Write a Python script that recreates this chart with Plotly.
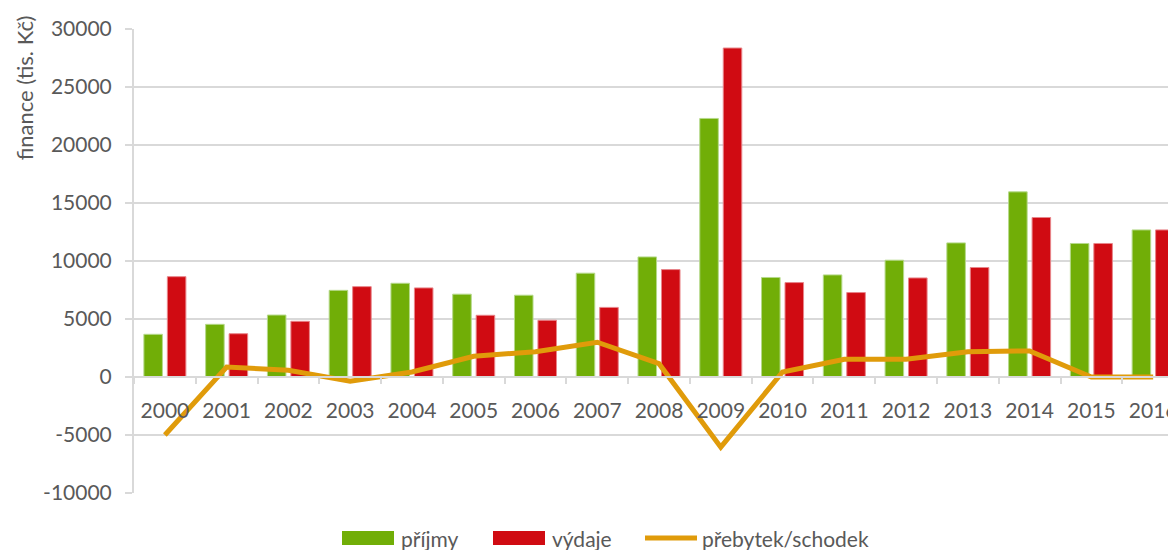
import plotly.graph_objects as go

roky = [str(r) for r in range(2000, 2017)]
prijmy = [3680, 4540, 5340, 7470, 8080, 7140, 7050, 8950, 10350, 22290,
          8580, 8800, 10070, 11560, 15960, 11510, 12680]
vydaje = [8650, 3730, 4800, 7790, 7680, 5320, 4890, 6000, 9260, 28360,
          8140, 7280, 8540, 9440, 13750, 11510, 12680]
saldo = [-5000, 860, 580, -370, 430, 1790, 2180, 3000, 1150, -6050,
         430, 1530, 1530, 2180, 2250, 0, 0]
y_ticks = [-10000, -5000, 0, 5000, 10000, 15000, 20000, 25000, 30000]

ZELENA = "#71AE07"
CERVENA = "#D00B12"
ORANZOVA = "#E09B0A"
SEDA = "#595959"
MRIZKA = "#D9D9D9"
FONT = "Lato"

fig = go.Figure()
fig.add_trace(go.Bar(x=roky, y=prijmy, name="příjmy", marker_color=ZELENA,
                     marker_line=dict(color="#B5D98A", width=1)))
fig.add_trace(go.Bar(x=roky, y=vydaje, name="výdaje", marker_color=CERVENA,
                     marker_line=dict(color="#E8858A", width=1)))
fig.add_trace(go.Scatter(x=roky, y=saldo, name="přebytek/schodek", mode="lines",
                         line=dict(color=ORANZOVA, width=5)))

# vlastní legenda ve stylu Excelu (široké značky pod grafem)
# plocha grafu: 1042 x 464 px
def px_x(p):
    return p / 1042

def px_y(p):
    return -p / 464

legenda = [("příjmy", ZELENA, "box", 208), ("výdaje", CERVENA, "box", 359),
           ("přebytek/schodek", ORANZOVA, "line", 509)]
shapes = []
annotations = []
for nazev, barva, druh, x0 in legenda:
    if druh == "box":
        shapes.append(dict(type="rect", xref="paper", yref="paper",
                           x0=px_x(x0), x1=px_x(x0 + 52), y0=px_y(38), y1=px_y(52),
                           fillcolor=barva, line_width=0))
    else:
        shapes.append(dict(type="line", xref="paper", yref="paper",
                           x0=px_x(x0 + 2), x1=px_x(x0 + 54), y0=px_y(45), y1=px_y(45),
                           line=dict(color=barva, width=5)))
    annotations.append(dict(text=nazev, xref="paper", yref="paper",
                            x=px_x(x0 + 57), y=px_y(45), xanchor="left",
                            yanchor="middle", showarrow=False,
                            font=dict(size=21, color=SEDA)))

annotations.append(dict(text="finance (tis. Kč)", xref="paper", yref="paper",
                        x=-0.105, y=1.034, xanchor="center", yanchor="top",
                        textangle=-90, showarrow=False,
                        font=dict(size=22, color=SEDA)))

# stránka má okraj 8 px, proto menší rozměry i okraje
fig.update_layout(
    width=1168, height=542,
    margin=dict(l=126, r=0, t=21, b=57),
    paper_bgcolor="white", plot_bgcolor="white",
    font=dict(family=FONT, size=20, color=SEDA),
    barmode="group", bargap=0.24, bargroupgap=0.21,
    showlegend=False,
    xaxis=dict(range=[-0.5, 16.37], anchor="free", position=0.25,
               automargin=False,
               showline=True, linecolor=MRIZKA, linewidth=2,
               ticks="outside", tickson="boundaries", ticklen=6,
               tickcolor=MRIZKA, tickwidth=2, showgrid=False,
               ticklabelstandoff=15,
               tickfont=dict(size=21, color=SEDA)),
    yaxis=dict(range=[-10000, 30000], automargin=False,
               tickvals=y_ticks, ticktext=[str(v) for v in y_ticks],
               showgrid=True, gridcolor=MRIZKA, gridwidth=2, zeroline=False,
               showline=True, linecolor=MRIZKA, linewidth=2,
               ticks="outside", ticklen=7, tickcolor=MRIZKA, tickwidth=2,
               ticklabelstandoff=9,
               tickfont=dict(size=21, color=SEDA)),
    shapes=shapes,
    annotations=annotations,
)

fig.write_html("out.html")
